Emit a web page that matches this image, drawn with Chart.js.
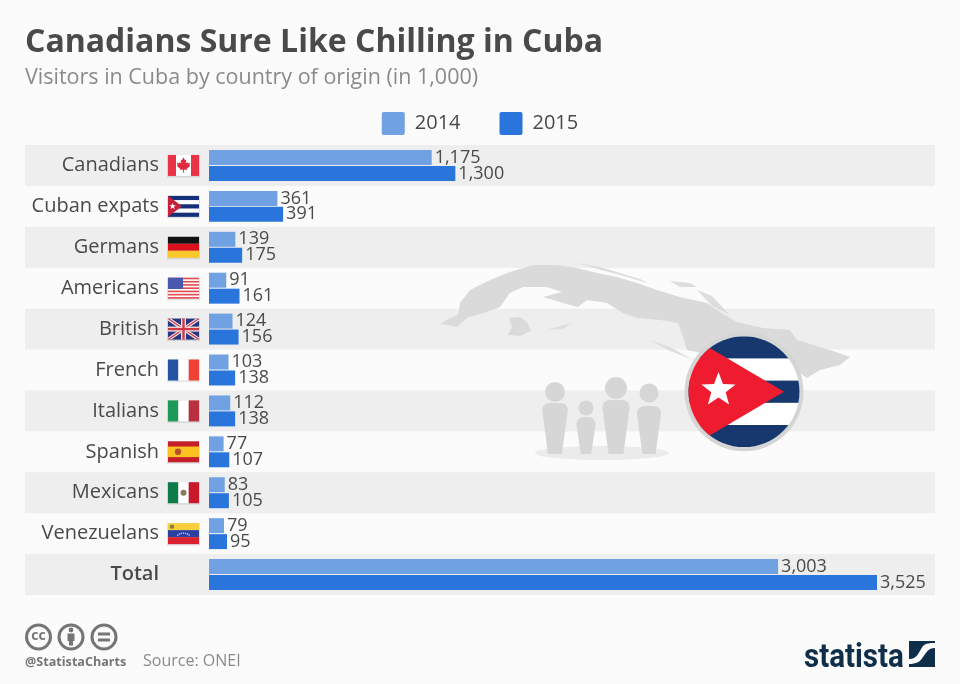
<!DOCTYPE html>
<html>
<head>
<meta charset="utf-8">
<script src="https://cdn.jsdelivr.net/npm/chart.js@4"></script>
<style>
  html, body { margin: 0; padding: 0; background: #fbfbfb; }
  #wrap { position: relative; width: 960px; height: 684px; }
</style>
</head>
<body>
<div id="wrap"><canvas id="graf"></canvas></div>
<script>
const categories = ['Canadians', 'Cuban expats', 'Germans', 'Americans', 'British', 'French', 'Italians', 'Spanish', 'Mexicans', 'Venezuelans', 'Total']
const values2014 = [1175, 361, 139, 91, 124, 103, 112, 77, 83, 79, 3003]
const values2015 = [1300, 391, 175, 161, 156, 138, 138, 107, 105, 95, 3525]
const seriesNames = ['2014', '2015']

const FONT = '"Open Sans", sans-serif'
const TEXT = '#4a4a4a'
const NAVY = '#16386f'
const RED = '#ee1c2e'

function rect(c, color, x, y, w, h) {
  c.fillStyle = color
  c.fillRect(x, y, w, h)
}

function star(c, cx, cy, r, color) {
  c.fillStyle = color
  c.beginPath()
  for (let i = 0; i < 10; i++) {
    let rad = i % 2 ? r * 0.42 : r
    let ang = -Math.PI / 2 + i * Math.PI / 5
    c.lineTo(cx + Math.cos(ang) * rad, cy + Math.sin(ang) * rad)
  }
  c.closePath()
  c.fill()
}

function poly(c, color, pts) {
  c.fillStyle = color
  c.beginPath()
  pts.forEach(p => c.lineTo(p[0], p[1]))
  c.closePath()
  c.fill()
}

function vertical(c, x, y, a, b, d) {
  rect(c, a, x, y, 10.4, 21)
  rect(c, b, x + 10.4, y, 10.3, 21)
  rect(c, d, x + 20.7, y, 10.3, 21)
}

// the small flags, one per category, drawn in a 31x21 box
const leaf = [[0,-8],[1.6,-5],[3,-5.6],[2.4,-1.6],[4,-3.2],[4.6,-1.8],[7,-2.2],[6.2,0.4],[7,1],[3.4,4],[3.8,5.2],[0.5,4.8],[0.5,8],[-0.5,8],[-0.5,4.8],[-3.8,5.2],[-3.4,4],[-7,1],[-6.2,0.4],[-7,-2.2],[-4.6,-1.8],[-4,-3.2],[-2.4,-1.6],[-3,-5.6],[-1.6,-5]]
const flags = {
  Canadians(c, x, y) {
    rect(c, '#ffffff', x, y, 31, 21)
    rect(c, '#ea3348', x, y, 8, 21)
    rect(c, '#ea3348', x + 23, y, 8, 21)
    poly(c, '#e02a3e', leaf.map(p => [x + 15.5 + p[0] * 0.95, y + 10 + p[1] * 0.95]))
  },
  'Cuban expats'(c, x, y) {
    rect(c, '#ffffff', x, y, 31, 21)
    for (let i = 0; i < 3; i++) rect(c, '#14307a', x, y + i * 8.4, 31, 4.2)
    poly(c, '#c8203a', [[x, y], [x + 14, y + 10.5], [x, y + 21]])
    star(c, x + 4.6, y + 10.5, 3.4, '#ffffff')
  },
  Germans(c, x, y) {
    rect(c, '#111111', x, y, 31, 7)
    rect(c, '#d8111c', x, y + 7, 31, 7)
    rect(c, '#f9c82a', x, y + 14, 31, 7)
  },
  Americans(c, x, y) {
    rect(c, '#ffffff', x, y, 31, 21)
    for (let i = 0; i < 7; i++) rect(c, '#e04a50', x, y + i * 3.23, 31, 1.62)
    rect(c, '#4a58ae', x, y, 15, 11.3)
  },
  British(c, x, y) {
    rect(c, '#27367e', x, y, 31, 21)
    c.save()
    c.beginPath()
    c.rect(x, y, 31, 21)
    c.clip()
    c.strokeStyle = '#f2e6e6'
    c.lineWidth = 3.5
    c.beginPath()
    c.moveTo(x, y); c.lineTo(x + 31, y + 21)
    c.moveTo(x + 31, y); c.lineTo(x, y + 21)
    c.stroke()
    c.strokeStyle = '#cf3a48'
    c.lineWidth = 1.2
    c.stroke()
    c.restore()
    rect(c, '#f2e6e6', x, y + 8, 31, 5)
    rect(c, '#f2e6e6', x + 13, y, 5, 21)
    rect(c, '#cf3a48', x, y + 9.3, 31, 2.4)
    rect(c, '#cf3a48', x + 14.3, y, 2.4, 21)
  },
  French(c, x, y) { vertical(c, x, y, '#2453a4', '#ffffff', '#ef4035') },
  Italians(c, x, y) { vertical(c, x, y, '#1c9a58', '#ffffff', '#b93040') },
  Spanish(c, x, y) {
    rect(c, '#c4202b', x, y, 31, 21)
    rect(c, '#fcc020', x, y + 5.2, 31, 10.6)
    c.fillStyle = '#b5522a'
    c.beginPath()
    c.arc(x + 10, y + 10.5, 3.2, 0, Math.PI * 2)
    c.fill()
  },
  Mexicans(c, x, y) {
    vertical(c, x, y, '#0f7a4a', '#ffffff', '#c9182c')
    c.fillStyle = '#8a7a5b'
    c.beginPath()
    c.arc(x + 15.5, y + 10.5, 3, 0, Math.PI * 2)
    c.fill()
  },
  Venezuelans(c, x, y) {
    rect(c, '#f8cf3b', x, y, 31, 7)
    rect(c, '#2a3fa0', x, y + 7, 31, 7)
    rect(c, '#d9222f', x, y + 14, 31, 7)
    c.fillStyle = '#8d7d3a'
    c.beginPath()
    c.arc(x + 4, y + 3.5, 2.2, 0, Math.PI * 2)
    c.fill()
    for (let i = 0; i < 7; i++) {
      let a = Math.PI * (1.2 + i * 0.1)
      star(c, x + 15.5 + Math.cos(a) * 7, y + 15 + Math.sin(a) * 5, 1, '#ffffff')
    }
  }
}

// grey island outline behind the bars
const cubaMap = [[440,324],[450,318],[458,315],[460,303],[470,290],[490,280],[510,272],[533,265],[557,265],[577,268],[597,273],[617,277],[637,283],[657,290],[680,297],[707,303],[720,312],[737,322],[763,328],[790,330],[797,340],[830,350],[850,357],[840,365],[820,370],[807,378],[800,373],[687,350],[683,337],[678,323],[660,320],[637,318],[623,313],[607,303],[587,300],[578,307],[563,303],[543,297],[562,292],[547,287],[523,287],[510,293],[500,307],[487,312],[467,318],[457,327],[447,325]]
const isleYouth = [[509,318],[520,317],[527,322],[531,331],[520,336],[508,335],[512,327]]
const keys = [[[577,263],[600,267],[640,279],[648,283],[620,275],[590,267]],[[670,281],[690,283],[697,287],[680,287]],[[697,290],[712,296],[730,315],[712,306]],[[650,340],[670,347],[693,360],[668,350]],[[547,330],[560,326],[573,323],[562,329]]]

function drawPerson(c, cx, headY, headR, top, bottom, halfW) {
  c.fillStyle = '#d6d6d6'
  c.beginPath()
  c.arc(cx, headY, headR, 0, Math.PI * 2)
  c.fill()
  c.beginPath()
  c.moveTo(cx - halfW, top + 8)
  c.quadraticCurveTo(cx - halfW, top, cx - halfW + 8, top)
  c.lineTo(cx + halfW - 8, top)
  c.quadraticCurveTo(cx + halfW, top, cx + halfW, top + 8)
  c.lineTo(cx + halfW * 0.55, bottom)
  c.lineTo(cx - halfW * 0.55, bottom)
  c.closePath()
  c.fill()
}

function drawScene(c) {
  // map
  poly(c, '#dadada', cubaMap)
  poly(c, '#dadada', isleYouth)
  keys.forEach(k => poly(c, '#dddddd', k))

  // people
  c.fillStyle = '#ebebeb'
  c.beginPath()
  c.ellipse(602, 453, 67, 7, 0, 0, Math.PI * 2)
  c.fill()
  drawPerson(c, 555, 392, 10, 403, 454, 12.7)
  drawPerson(c, 586, 408, 7.5, 417, 454, 9.5)
  drawPerson(c, 616, 388, 11, 400, 454, 13.5)
  drawPerson(c, 649, 393, 9.5, 406, 454, 12)

  // big cuban flag
  const cx = 744, cy = 391.7
  c.fillStyle = '#d5d5d5'
  c.beginPath()
  c.arc(cx, cy, 59.5, 0, Math.PI * 2)
  c.fill()
  c.save()
  c.beginPath()
  c.arc(cx, cy, 55.5, 0, Math.PI * 2)
  c.clip()
  rect(c, '#ffffff', cx - 60, cy - 60, 120, 120)
  for (let i = 0; i < 3; i++) rect(c, NAVY, cx - 60, cy - 55.5 + i * 44.4, 120, 22.2)
  poly(c, RED, [[784, cy], [650, cy - 79], [650, cy + 79]])
  c.restore()
  star(c, 718.5, 390, 18, '#ffffff')
}

function drawFooter(c) {
  // licence icons
  c.strokeStyle = '#757575'
  c.lineWidth = 3
  ;[38.5, 71, 104].forEach(x => {
    c.beginPath()
    c.arc(x, 637, 12, 0, Math.PI * 2)
    c.stroke()
  })
  c.fillStyle = '#757575'
  c.font = 'bold 14px ' + FONT
  c.textAlign = 'center'
  c.textBaseline = 'middle'
  c.fillText('cc', 38.5, 636)
  c.beginPath()
  c.arc(71, 630, 2.4, 0, Math.PI * 2)
  c.fill()
  c.fillRect(67.5, 633.5, 7, 7.5)
  c.fillRect(69, 640, 4, 5.5)
  c.fillRect(98, 632.5, 12, 3)
  c.fillRect(98, 638.5, 12, 3)

  c.textAlign = 'left'
  c.font = 'bold 12.6px ' + FONT
  c.fillText('@StatistaCharts', 25, 662)
  c.fillStyle = '#8a8a8a'
  c.font = '16px ' + FONT
  c.fillText('Source: ONEI', 143, 661)

  // logo
  c.fillStyle = '#0f2e49'
  c.save()
  c.translate(804, 667)
  c.scale(0.87, 1)
  c.textBaseline = 'alphabetic'
  c.font = 'bold 34px Roboto, sans-serif'
  c.fillText('statista', 0, 0)
  c.restore()
  c.fillRect(909, 641, 26, 26)
  c.fillStyle = '#fbfbfb'
  c.beginPath()
  c.moveTo(909, 659)
  c.bezierCurveTo(918, 659, 919, 651, 923, 646)
  c.bezierCurveTo(926, 643, 930, 643, 935, 643)
  c.lineTo(935, 648)
  c.bezierCurveTo(928, 648, 926, 653, 923, 657)
  c.bezierCurveTo(920, 662, 916, 664, 909, 664)
  c.closePath()
  c.fill()
}

// grey row stripes and background art go under everything
const backgroundPlugin = {
  id: 'fundo',
  beforeDraw(chart) {
    const c = chart.ctx
    const y = chart.scales.y
    const area = chart.chartArea
    const step = (area.bottom - area.top) / categories.length
    c.save()
    categories.forEach((name, i) => {
      if (i % 2 === 0) {
        rect(c, '#eeeeee', 25, y.getPixelForTick(i) - step / 2, area.right - 25, step)
      }
    })
    drawScene(c)
    categories.forEach((name, i) => {
      if (flags[name]) {
        let fy = y.getPixelForTick(i) - 10.5
        rect(c, 'rgba(0,0,0,0.1)', 167, fy, 33, 22.5)
        flags[name](c, 168, fy)
      }
    })
    c.restore()
  }
}

// numbers at the bar ends, plus footer
const labelsPlugin = {
  id: 'rotulos',
  afterDatasetsDraw(chart) {
    const c = chart.ctx
    c.save()
    c.fillStyle = TEXT
    c.font = '18px ' + FONT
    c.textAlign = 'left'
    c.textBaseline = 'middle'
    chart.data.datasets.forEach((ds, d) => {
      chart.getDatasetMeta(d).data.forEach((bar, i) => {
        c.fillText(ds.data[i].toLocaleString('en-US'), bar.x + 3, bar.y)
      })
    })
    drawFooter(c)
    c.restore()
  }
}

new Chart(document.getElementById('graf'), {
  type: 'bar',
  data: {
    labels: categories,
    datasets: [
      { label: seriesNames[0], data: values2014, backgroundColor: '#6fa1e3' },
      { label: seriesNames[1], data: values2015, backgroundColor: '#2a75db' }
    ]
  },
  plugins: [backgroundPlugin, labelsPlugin],
  options: {
    indexAxis: 'y',
    responsive: true,
    maintainAspectRatio: false,
    animation: false,
    categoryPercentage: 0.78,
    barPercentage: 0.94,
    layout: { padding: { left: 25, right: 25, top: 24, bottom: 89 } },
    scales: {
      x: { display: false, min: 0, max: 3831 },
      y: {
        grid: { display: false, drawTicks: false },
        border: { display: false },
        afterFit(scale) { scale.width = 184 },
        ticks: {
          padding: 50,
          color: TEXT,
          autoSkip: false,
          font: ctx => ({
            family: FONT,
            size: 20,
            weight: ctx.index === categories.length - 1 ? '600' : 'normal'
          })
        }
      }
    },
    plugins: {
      tooltip: { enabled: false },
      title: {
        display: true,
        text: 'Canadians Sure Like Chilling in Cuba',
        align: 'start',
        color: TEXT,
        font: { family: FONT, size: 32, weight: 'bold' },
        padding: { top: 0, bottom: 2.6 }
      },
      subtitle: {
        display: true,
        text: 'Visitors in Cuba by country of origin (in 1,000)',
        align: 'start',
        color: '#8a8a8a',
        font: { family: FONT, size: 21.5 },
        padding: { top: 0, bottom: -17.8 }
      },
      legend: {
        position: 'top',
        labels: {
          boxWidth: 23,
          boxHeight: 23,
          padding: 39,
          useBorderRadius: true,
          borderRadius: 2,
          color: TEXT,
          font: { family: FONT, size: 20 }
        }
      }
    }
  }
})
</script>
</body>
</html>
